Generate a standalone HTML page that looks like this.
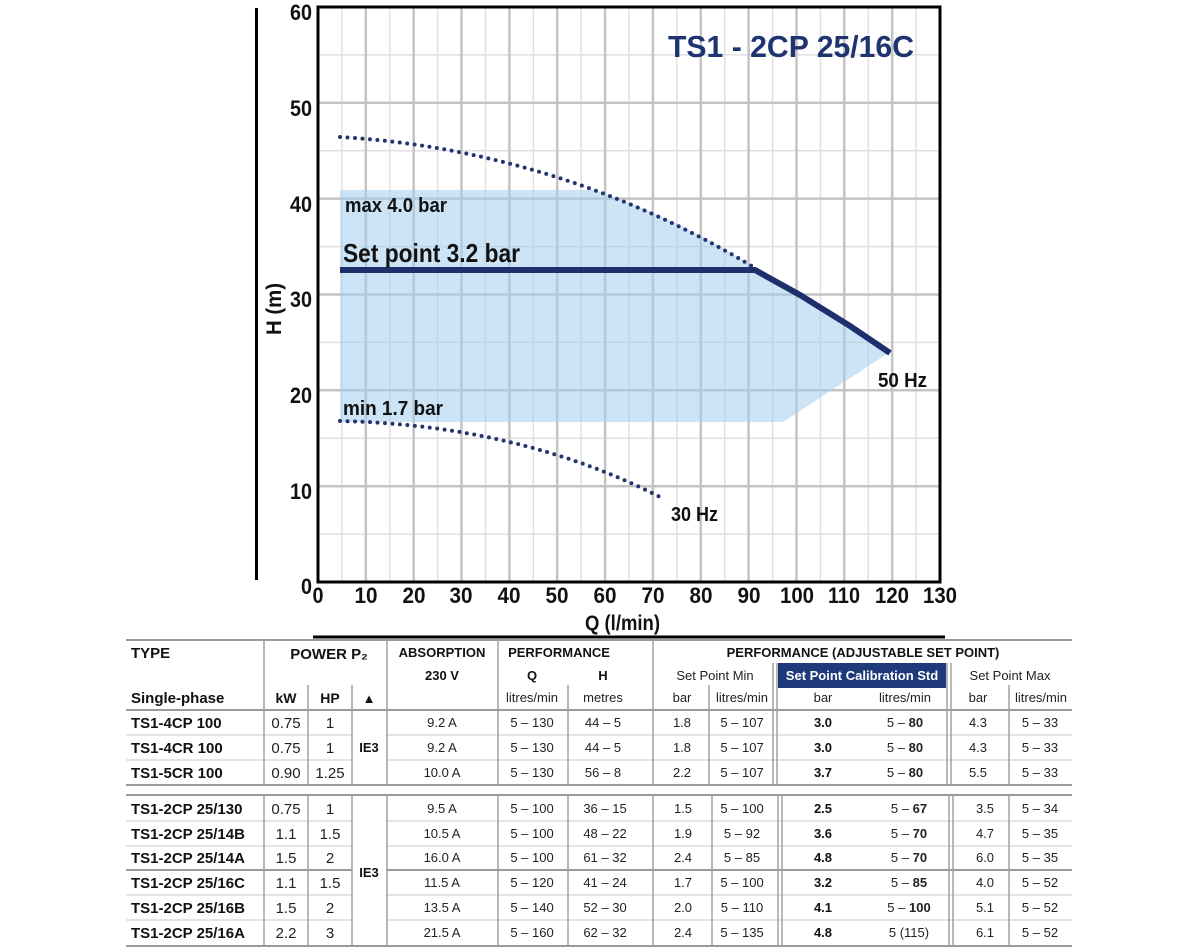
<!DOCTYPE html>
<html><head><meta charset="utf-8"><style>
html,body{margin:0;padding:0;background:#fff;width:1200px;height:950px;overflow:hidden}
svg{display:block}
.ax{font-family:"Liberation Sans",sans-serif;font-weight:bold;font-size:22px;fill:#111}
.lb{font-family:"Liberation Sans",sans-serif;font-weight:bold;fill:#111}
.th{font-family:"Liberation Sans",sans-serif;font-weight:bold;font-size:13px;fill:#111}
.tn{font-family:"Liberation Sans",sans-serif;font-weight:bold;font-size:15px;fill:#111}
.tv{font-family:"Liberation Sans",sans-serif;font-size:13px;fill:#222}
.tb{font-family:"Liberation Sans",sans-serif;font-size:13px;font-weight:bold;fill:#111}
</style></head><body>
<svg width="1200" height="950" viewBox="0 0 1200 950" xmlns="http://www.w3.org/2000/svg">
<g stroke="#e0e0e0" stroke-width="1.5">
<line x1="341.9" y1="7" x2="341.9" y2="582"/><line x1="389.8" y1="7" x2="389.8" y2="582"/><line x1="437.6" y1="7" x2="437.6" y2="582"/><line x1="485.5" y1="7" x2="485.5" y2="582"/><line x1="533.3" y1="7" x2="533.3" y2="582"/><line x1="581.2" y1="7" x2="581.2" y2="582"/><line x1="629" y1="7" x2="629" y2="582"/><line x1="676.9" y1="7" x2="676.9" y2="582"/><line x1="724.7" y1="7" x2="724.7" y2="582"/><line x1="772.6" y1="7" x2="772.6" y2="582"/><line x1="820.4" y1="7" x2="820.4" y2="582"/><line x1="868.3" y1="7" x2="868.3" y2="582"/><line x1="916.1" y1="7" x2="916.1" y2="582"/>
<line x1="318" y1="534.1" x2="940" y2="534.1"/><line x1="318" y1="438.2" x2="940" y2="438.2"/><line x1="318" y1="342.4" x2="940" y2="342.4"/><line x1="318" y1="246.6" x2="940" y2="246.6"/><line x1="318" y1="150.7" x2="940" y2="150.7"/><line x1="318" y1="54.9" x2="940" y2="54.9"/>
</g>
<g stroke="#c4c4c4" stroke-width="2.5">
<line x1="365.8" y1="7" x2="365.8" y2="582"/><line x1="413.7" y1="7" x2="413.7" y2="582"/><line x1="461.5" y1="7" x2="461.5" y2="582"/><line x1="509.4" y1="7" x2="509.4" y2="582"/><line x1="557.2" y1="7" x2="557.2" y2="582"/><line x1="605.1" y1="7" x2="605.1" y2="582"/><line x1="652.9" y1="7" x2="652.9" y2="582"/><line x1="700.8" y1="7" x2="700.8" y2="582"/><line x1="748.6" y1="7" x2="748.6" y2="582"/><line x1="796.5" y1="7" x2="796.5" y2="582"/><line x1="844.3" y1="7" x2="844.3" y2="582"/><line x1="892.2" y1="7" x2="892.2" y2="582"/>
<line x1="318" y1="486.2" x2="940" y2="486.2"/><line x1="318" y1="390.3" x2="940" y2="390.3"/><line x1="318" y1="294.5" x2="940" y2="294.5"/><line x1="318" y1="198.6" x2="940" y2="198.6"/><line x1="318" y1="102.8" x2="940" y2="102.8"/>
</g>
<path d="M340,190 L595,190 L640,207 L680,225 L720,246 L755,268 L890,352 L783,422 L340,422 Z" fill="#a3cdee" fill-opacity="0.55"/>
<rect x="318" y="7" width="622" height="575" fill="none" stroke="#000" stroke-width="3"/>
<line x1="256.5" y1="8" x2="256.5" y2="580" stroke="#000" stroke-width="3"/>
<line x1="313" y1="637" x2="945" y2="637" stroke="#000" stroke-width="3"/>
<path d="M340,137 Q560,150 755,268" fill="none" stroke="#24346e" stroke-width="4" stroke-linecap="round" stroke-dasharray="0 7.5"/>
<path d="M340,421 Q520,425 662,498" fill="none" stroke="#24346e" stroke-width="4" stroke-linecap="round" stroke-dasharray="0 7.5"/>
<path d="M340,270 L755,270 L800,295 L850,326 L890,353" fill="none" stroke="#1f2f6e" stroke-width="6"/>
<text class="lb" x="668" y="57" font-size="31" style="fill:#1f3370" textLength="246" lengthAdjust="spacingAndGlyphs">TS1 - 2CP 25/16C</text>
<text class="lb" x="345" y="212" font-size="20" textLength="102" lengthAdjust="spacingAndGlyphs">max 4.0 bar</text>
<text class="lb" x="343" y="262" font-size="26" textLength="177" lengthAdjust="spacingAndGlyphs">Set point 3.2 bar</text>
<text class="lb" x="343" y="415" font-size="20" textLength="100" lengthAdjust="spacingAndGlyphs">min 1.7 bar</text>
<text class="lb" x="878" y="387" font-size="20" textLength="49" lengthAdjust="spacingAndGlyphs">50 Hz</text>
<text class="lb" x="671" y="521" font-size="20" textLength="47" lengthAdjust="spacingAndGlyphs">30 Hz</text>
<text class="lb" x="585" y="630" font-size="21" textLength="75" lengthAdjust="spacingAndGlyphs">Q (l/min)</text>
<text class="lb" x="0" y="0" font-size="21" transform="translate(281,335) rotate(-90)" textLength="52" lengthAdjust="spacingAndGlyphs">H (m)</text>
<g class="ax" text-anchor="end">
<text x="312" y="20" textLength="22" lengthAdjust="spacingAndGlyphs">60</text><text x="312" y="116" textLength="22" lengthAdjust="spacingAndGlyphs">50</text><text x="312" y="212" textLength="22" lengthAdjust="spacingAndGlyphs">40</text><text x="312" y="307" textLength="22" lengthAdjust="spacingAndGlyphs">30</text><text x="312" y="403" textLength="22" lengthAdjust="spacingAndGlyphs">20</text><text x="312" y="499" textLength="22" lengthAdjust="spacingAndGlyphs">10</text><text x="312" y="594" textLength="11" lengthAdjust="spacingAndGlyphs">0</text>
</g>
<g class="ax" text-anchor="middle" lengthAdjust="spacingAndGlyphs">
<text x="318" y="603" textLength="11" lengthAdjust="spacingAndGlyphs">0</text>
<text x="366" y="603" textLength="23" lengthAdjust="spacingAndGlyphs">10</text>
<text x="414" y="603" textLength="23" lengthAdjust="spacingAndGlyphs">20</text>
<text x="461" y="603" textLength="23" lengthAdjust="spacingAndGlyphs">30</text>
<text x="509" y="603" textLength="23" lengthAdjust="spacingAndGlyphs">40</text>
<text x="557" y="603" textLength="23" lengthAdjust="spacingAndGlyphs">50</text>
<text x="605" y="603" textLength="23" lengthAdjust="spacingAndGlyphs">60</text>
<text x="653" y="603" textLength="23" lengthAdjust="spacingAndGlyphs">70</text>
<text x="701" y="603" textLength="23" lengthAdjust="spacingAndGlyphs">80</text>
<text x="749" y="603" textLength="23" lengthAdjust="spacingAndGlyphs">90</text>
<text x="797" y="603" textLength="34" lengthAdjust="spacingAndGlyphs">100</text>
<text x="844" y="603" textLength="32" lengthAdjust="spacingAndGlyphs">110</text>
<text x="892" y="603" textLength="34" lengthAdjust="spacingAndGlyphs">120</text>
<text x="940" y="603" textLength="34" lengthAdjust="spacingAndGlyphs">130</text>
</g>
<rect x="778" y="663" width="168" height="25" fill="#1f3a7a"/>
<g stroke="#9a9a9a" stroke-width="2">
<line x1="126" y1="640" x2="1072" y2="640"/>
<line x1="126" y1="710" x2="1072" y2="710"/>
<line x1="126" y1="785" x2="1072" y2="785"/>
<line x1="126" y1="795" x2="1072" y2="795"/>
<line x1="126" y1="870" x2="352" y2="870"/><line x1="386" y1="870" x2="1072" y2="870"/>
<line x1="126" y1="946" x2="1072" y2="946"/>
</g>
<g stroke="#dcdcdc" stroke-width="1.5">
<line x1="126" y1="735" x2="352" y2="735"/><line x1="386" y1="735" x2="1072" y2="735"/>
<line x1="126" y1="760" x2="352" y2="760"/><line x1="386" y1="760" x2="1072" y2="760"/>
<line x1="126" y1="821" x2="352" y2="821"/><line x1="386" y1="821" x2="1072" y2="821"/>
<line x1="126" y1="846" x2="352" y2="846"/><line x1="386" y1="846" x2="1072" y2="846"/>
<line x1="126" y1="895" x2="352" y2="895"/><line x1="386" y1="895" x2="1072" y2="895"/>
<line x1="126" y1="920" x2="352" y2="920"/><line x1="386" y1="920" x2="1072" y2="920"/>
</g>
<g stroke="#a0a0a0" stroke-width="1.5">
<line x1="264" y1="640" x2="264" y2="785"/><line x1="264" y1="795" x2="264" y2="946"/>
<line x1="308" y1="685" x2="308" y2="785"/><line x1="308" y1="795" x2="308" y2="946"/>
<line x1="352" y1="685" x2="352" y2="785"/><line x1="352" y1="795" x2="352" y2="946"/>
<line x1="387" y1="640" x2="387" y2="785"/><line x1="387" y1="795" x2="387" y2="946"/>
<line x1="498" y1="640" x2="498" y2="785"/><line x1="498" y1="795" x2="498" y2="946"/>
<line x1="568" y1="685" x2="568" y2="785"/><line x1="568" y1="795" x2="568" y2="946"/>
<line x1="653" y1="640" x2="653" y2="785"/><line x1="653" y1="795" x2="653" y2="946"/>
<line x1="709" y1="685" x2="709" y2="785"/><line x1="712" y1="795" x2="712" y2="946"/>
<line x1="773" y1="663" x2="773" y2="785"/><line x1="777" y1="663" x2="777" y2="785"/>
<line x1="778" y1="795" x2="778" y2="946"/><line x1="782" y1="795" x2="782" y2="946"/>
<line x1="947" y1="663" x2="947" y2="785"/><line x1="951" y1="663" x2="951" y2="785"/>
<line x1="949" y1="795" x2="949" y2="946"/><line x1="953" y1="795" x2="953" y2="946"/>
<line x1="1009" y1="685" x2="1009" y2="785"/><line x1="1009" y1="795" x2="1009" y2="946"/>
</g>
<text class="tn" x="131" y="658">TYPE</text>
<text class="tn" x="131" y="703">Single-phase</text>
<g class="th" text-anchor="middle">
<text x="329" y="659" font-size="15">POWER P₂</text>
<text x="286" y="703" font-size="14">kW</text><text x="330" y="703" font-size="14">HP</text><text x="369" y="703">▲</text>
<text x="442" y="657">ABSORPTION</text><text x="442" y="680">230 V</text>
<text x="559" y="657">PERFORMANCE</text><text x="532" y="680">Q</text><text x="603" y="680">H</text>
<text x="863" y="657">PERFORMANCE (ADJUSTABLE SET POINT)</text>
<text x="862" y="680" style="fill:#fff">Set Point Calibration Std</text>
</g>
<g class="tv" text-anchor="middle">
<text x="532" y="702">litres/min</text><text x="603" y="702">metres</text>
<text x="715" y="680">Set Point Min</text><text x="1010" y="680">Set Point Max</text>
<text x="682" y="702">bar</text><text x="742" y="702">litres/min</text>
<text x="823" y="702">bar</text><text x="905" y="702">litres/min</text>
<text x="978" y="702">bar</text><text x="1041" y="702">litres/min</text>
</g>
<g class="tn">
<text x="131" y="728">TS1-4CP 100</text><text x="131" y="753">TS1-4CR 100</text><text x="131" y="778">TS1-5CR 100</text>
<text x="131" y="814">TS1-2CP 25/130</text><text x="131" y="839">TS1-2CP 25/14B</text><text x="131" y="863">TS1-2CP 25/14A</text>
<text x="131" y="888">TS1-2CP 25/16C</text><text x="131" y="913">TS1-2CP 25/16B</text><text x="131" y="938">TS1-2CP 25/16A</text>
</g>
<g class="th" text-anchor="middle"><text x="369" y="752">IE3</text><text x="369" y="877">IE3</text></g>
<g class="tv" text-anchor="middle" style="font-size:15px">
<text x="286" y="728">0.75</text><text x="330" y="728">1</text>
<text x="286" y="753">0.75</text><text x="330" y="753">1</text>
<text x="286" y="778">0.90</text><text x="330" y="778">1.25</text>
<text x="286" y="814">0.75</text><text x="330" y="814">1</text>
<text x="286" y="839">1.1</text><text x="330" y="839">1.5</text>
<text x="286" y="863">1.5</text><text x="330" y="863">2</text>
<text x="286" y="888">1.1</text><text x="330" y="888">1.5</text>
<text x="286" y="913">1.5</text><text x="330" y="913">2</text>
<text x="286" y="938">2.2</text><text x="330" y="938">3</text>
</g>
<g class="tv" text-anchor="middle">
<text x="442" y="727">9.2 A</text><text x="532" y="727">5 – 130</text><text x="603" y="727">44 – 5</text><text x="682" y="727">1.8</text><text x="742" y="727">5 – 107</text><text x="978" y="727">4.3</text><text x="1040" y="727">5 – 33</text>
<text x="442" y="752">9.2 A</text><text x="532" y="752">5 – 130</text><text x="603" y="752">44 – 5</text><text x="682" y="752">1.8</text><text x="742" y="752">5 – 107</text><text x="978" y="752">4.3</text><text x="1040" y="752">5 – 33</text>
<text x="442" y="777">10.0 A</text><text x="532" y="777">5 – 130</text><text x="603" y="777">56 – 8</text><text x="682" y="777">2.2</text><text x="742" y="777">5 – 107</text><text x="978" y="777">5.5</text><text x="1040" y="777">5 – 33</text>
<text x="442" y="813">9.5 A</text><text x="532" y="813">5 – 100</text><text x="605" y="813">36 – 15</text><text x="683" y="813">1.5</text><text x="742" y="813">5 – 100</text><text x="985" y="813">3.5</text><text x="1040" y="813">5 – 34</text>
<text x="442" y="838">10.5 A</text><text x="532" y="838">5 – 100</text><text x="605" y="838">48 – 22</text><text x="683" y="838">1.9</text><text x="742" y="838">5 – 92</text><text x="985" y="838">4.7</text><text x="1040" y="838">5 – 35</text>
<text x="442" y="862">16.0 A</text><text x="532" y="862">5 – 100</text><text x="605" y="862">61 – 32</text><text x="683" y="862">2.4</text><text x="742" y="862">5 – 85</text><text x="985" y="862">6.0</text><text x="1040" y="862">5 – 35</text>
<text x="442" y="887">11.5 A</text><text x="532" y="887">5 – 120</text><text x="605" y="887">41 – 24</text><text x="683" y="887">1.7</text><text x="742" y="887">5 – 100</text><text x="985" y="887">4.0</text><text x="1040" y="887">5 – 52</text>
<text x="442" y="912">13.5 A</text><text x="532" y="912">5 – 140</text><text x="605" y="912">52 – 30</text><text x="683" y="912">2.0</text><text x="742" y="912">5 – 110</text><text x="985" y="912">5.1</text><text x="1040" y="912">5 – 52</text>
<text x="442" y="937">21.5 A</text><text x="532" y="937">5 – 160</text><text x="605" y="937">62 – 32</text><text x="683" y="937">2.4</text><text x="742" y="937">5 – 135</text><text x="985" y="937">6.1</text><text x="1040" y="937">5 – 52</text>
</g>
<g class="tb" text-anchor="middle">
<text x="823" y="727">3.0</text><text x="823" y="752">3.0</text><text x="823" y="777">3.7</text>
<text x="823" y="813">2.5</text><text x="823" y="838">3.6</text><text x="823" y="862">4.8</text><text x="823" y="887">3.2</text><text x="823" y="912">4.1</text><text x="823" y="937">4.8</text>
</g>
<g class="tv" text-anchor="middle">
<text x="905" y="727">5 – <tspan font-weight="bold">80</tspan></text>
<text x="905" y="752">5 – <tspan font-weight="bold">80</tspan></text>
<text x="905" y="777">5 – <tspan font-weight="bold">80</tspan></text>
<text x="909" y="813">5 – <tspan font-weight="bold">67</tspan></text>
<text x="909" y="838">5 – <tspan font-weight="bold">70</tspan></text>
<text x="909" y="862">5 – <tspan font-weight="bold">70</tspan></text>
<text x="909" y="887">5 – <tspan font-weight="bold">85</tspan></text>
<text x="909" y="912">5 – <tspan font-weight="bold">100</tspan></text>
<text x="909" y="937">5 (115)</text>
</g>
</svg>
</body></html>
